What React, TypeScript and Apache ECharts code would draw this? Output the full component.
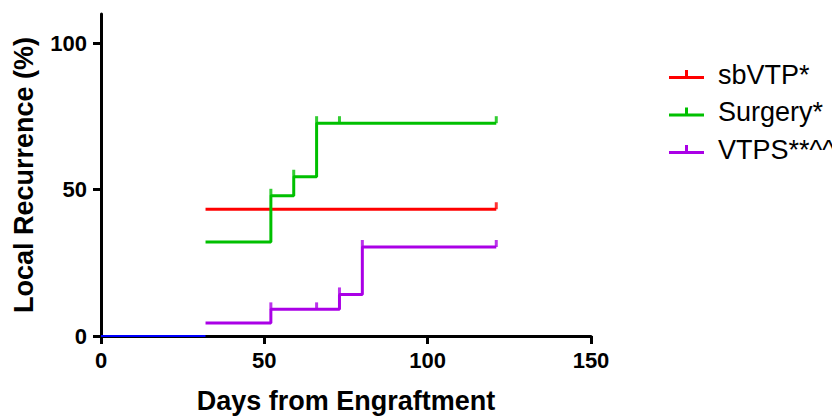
import React, { useEffect, useRef } from "react";
import * as echarts from "echarts";

const xTicks = [0, 50, 100, 150];
const yTicks = [0, 50, 100];

const seriesNames = ["sbVTP*", "Surgery*", "VTPS**^^"];
const seriesColors = ["#ff0000", "#00c000", "#aa00e6"];

// Kaplan-Meier style step data: [day, percent]
const sbVTPTimes = [32, 121];
const sbVTPValues = [43.3, 43.3];
const sbVTPCensorTimes = [121];
const sbVTPCensorValues = [43.3];

const surgeryTimes = [32, 52, 59, 66, 121];
const surgeryValues = [32.1, 47.9, 54.4, 72.7, 72.7];
const surgeryCensorTimes = [52, 59, 66, 73, 121];
const surgeryCensorValues = [47.9, 54.4, 72.7, 72.7, 72.7];

const vtpsTimes = [32, 52, 73, 80, 121];
const vtpsValues = [4.4, 9.1, 14.2, 30.4, 30.4];
const vtpsCensorTimes = [52, 66, 73, 80, 121];
const vtpsCensorValues = [9.1, 9.1, 14.2, 30.4, 30.4];

const baselineTimes = [0, 32];
const baselineValues = [0, 0];

const zip = (a: number[], b: number[]) => a.map((v, i) => [v, b[i]]);

const FONT = "'Liberation Sans', Arial, sans-serif";

export default function App() {
  const ref = useRef<HTMLDivElement>(null);
  useEffect(() => {
    if (!ref.current) return;
    const chart = echarts.init(ref.current, undefined, { renderer: "svg" });
    const lines = [
      zip(sbVTPTimes, sbVTPValues),
      zip(surgeryTimes, surgeryValues),
      zip(vtpsTimes, vtpsValues),
    ];
    const censors = [
      zip(sbVTPCensorTimes, sbVTPCensorValues),
      zip(surgeryCensorTimes, surgeryCensorValues),
      zip(vtpsCensorTimes, vtpsCensorValues),
    ];
    const series: any[] = [];
    lines.forEach((d, i) => {
      series.push({
        name: seriesNames[i],
        type: "line",
        step: "end",
        data: d,
        showSymbol: false,
        color: seriesColors[i],
        lineStyle: { width: 3, color: seriesColors[i] },
        z: 3,
      });
      series.push({
        name: seriesNames[i] + "_censor",
        type: "scatter",
        data: censors[i],
        symbol: "rect",
        symbolSize: [3, 7],
        symbolOffset: [0, -3.5],
        itemStyle: { color: seriesColors[i] },
        z: 3,
      });
    });
    series.push({
      name: "baseline",
      type: "line",
      data: zip(baselineTimes, baselineValues),
      showSymbol: false,
      lineStyle: { width: 2, color: "#0000ff" },
      z: 4,
    });

    chart.setOption({
      animation: false,
      backgroundColor: "#ffffff",
      grid: { left: 101, right: 241, top: 14, bottom: 78, containLabel: false },
      legend: {
        data: seriesNames.map((n, i) => ({ name: n, itemStyle: { color: seriesColors[i] } })),
        orient: "vertical",
        left: 664,
        top: 56,
        itemWidth: 35,
        itemHeight: 9,
        itemGap: 10.5,
        icon: "path://M0,6h35v3H0z M16,0h3v6h-3z",
        textStyle: { fontFamily: FONT, fontSize: 27, color: "#000", padding: [0, 0, 0, 9] },
      },
      xAxis: {
        type: "value",
        min: 0,
        max: 150,
        interval: 50,
        name: "Days from Engraftment",
        nameLocation: "middle",
        nameGap: 51,
        nameTextStyle: { fontFamily: FONT, fontSize: 27, fontWeight: "bold", color: "#000" },
        axisLine: { show: true, lineStyle: { color: "#000", width: 3 } },
        axisTick: { show: true, length: 8, lineStyle: { color: "#000", width: 3 } },
        axisLabel: {
          customValues: xTicks,
          margin: 13,
          fontFamily: FONT,
          fontSize: 22,
          fontWeight: "bold",
          color: "#000",
        },
        splitLine: { show: false },
      },
      yAxis: {
        type: "value",
        min: 0,
        max: 110,
        name: "Local Recurrence (%)",
        nameLocation: "middle",
        nameGap: 64,
        nameTextStyle: { fontFamily: FONT, fontSize: 27, fontWeight: "bold", color: "#000" },
        axisLine: { show: true, lineStyle: { color: "#000", width: 3 } },
        axisTick: { show: true, length: 8, customValues: yTicks, lineStyle: { color: "#000", width: 3 } },
        axisLabel: {
          customValues: yTicks,
          margin: 14,
          fontFamily: FONT,
          fontSize: 22,
          fontWeight: "bold",
          color: "#000",
        },
        splitLine: { show: false },
      },
      series,
    });
    return () => chart.dispose();
  }, []);
  return (
    <div
      ref={ref}
      style={{ position: "fixed", left: 0, top: 0, width: 832, height: 419, background: "#fff" }}
    />
  );
}
